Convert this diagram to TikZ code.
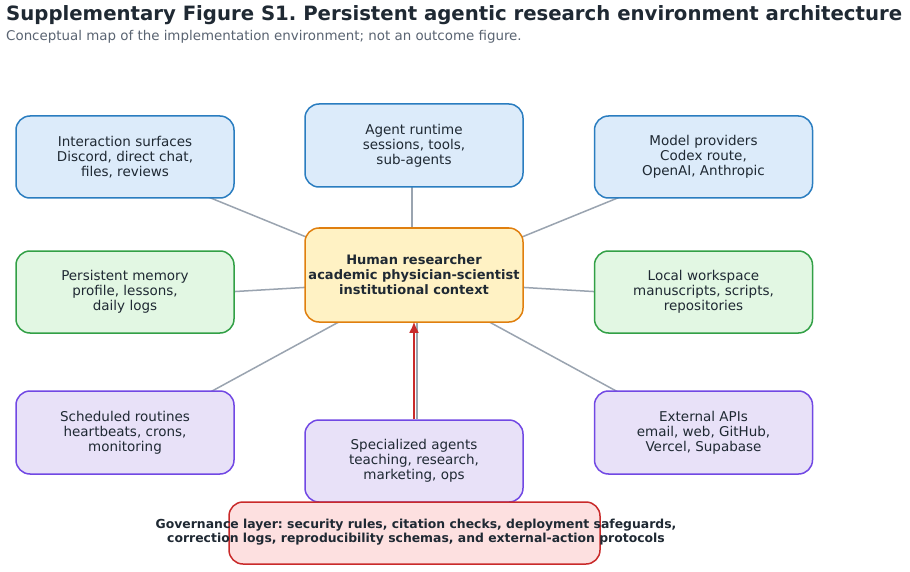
\documentclass[tikz,border=0pt]{standalone}
\usepackage{fontspec}
\setmainfont{DejaVu Sans}
\usetikzlibrary{backgrounds,arrows.meta}
\frenchspacing
\definecolor{txt}{HTML}{1F2933}
\definecolor{subtxt}{HTML}{5A6472}
\definecolor{bluefill}{HTML}{DCEBFA}
\definecolor{blueline}{HTML}{2A7DC0}
\definecolor{greenfill}{HTML}{E2F7E3}
\definecolor{greenline}{HTML}{32A046}
\definecolor{purfill}{HTML}{E8E1F8}
\definecolor{purline}{HTML}{7148E4}
\definecolor{orfill}{HTML}{FFF2C4}
\definecolor{orline}{HTML}{E07F0E}
\definecolor{redfill}{HTML}{FDE0E0}
\definecolor{redline}{HTML}{C92A2A}
\definecolor{conncol}{HTML}{9AA4B0}
\tikzset{
  box/.style={draw, line width=1.5pt, rounded corners=14pt, minimum width=218pt, minimum height=82pt,
    align=center, text=txt, font=\fontsize{13.5}{15}\selectfont, inner sep=0pt},
  bluebox/.style={box, fill=bluefill, draw=blueline},
  greenbox/.style={box, fill=greenfill, draw=greenline},
  purbox/.style={box, fill=purfill, draw=purline},
  conn/.style={draw=conncol, line width=1.5pt},
}
\begin{document}
\begin{tikzpicture}[x=1pt,y=-1pt]
\useasboundingbox (0,0) rectangle (910,572);
\node[anchor=base west, text=txt, font=\bfseries\fontsize{19.7}{22}\selectfont, inner sep=0pt] (title) at (6,21) {Supplementary Figure S1. Persistent agentic research environment architecture};
\node[anchor=base west, text=subtxt, font=\fontsize{13.4}{15}\selectfont, inner sep=0pt] (subtitle) at (6,41) {Conceptual map of the implementation environment; not an outcome figure.};

\node[box, fill=orfill, draw=orline, minimum height=94pt, font=\bfseries\fontsize{13}{15}\selectfont] (hum) at (414,275) {Human researcher\\academic physician-scientist\\institutional context};

\node[bluebox] (inter) at (125,157) {Interaction surfaces\\Discord, direct chat,\\files, reviews};
\node[bluebox, minimum height=83pt] (runtime) at (414,145.5) {Agent runtime\\sessions, tools,\\sub-agents};
\node[bluebox] (model) at (703.5,157) {Model providers\\Codex route,\\OpenAI, Anthropic};
\node[greenbox] (mem) at (125,292) {Persistent memory\\profile, lessons,\\daily logs};
\node[greenbox] (work) at (703.5,292) {Local workspace\\manuscripts, scripts,\\repositories};
\node[purbox, minimum height=83pt] (sched) at (125,432.5) {Scheduled routines\\heartbeats, crons,\\monitoring};
\node[purbox] (spec) at (414,461) {Specialized agents\\teaching, research,\\marketing, ops};
\node[purbox, minimum height=83pt] (ext) at (703.5,432.5) {External APIs\\email, web, GitHub,\\Vercel, Supabase};

\node[box, fill=redfill, draw=redline, minimum width=371pt, minimum height=62pt] (govbox) at (414.5,533) {};
\node[align=center, text=txt, font=\bfseries\fontsize{12.4}{14}\selectfont, inner sep=0pt] (gov) at (416,532) {Governance layer: security rules, citation checks, deployment safeguards,\\correction logs, reproducibility schemas, and external-action protocols};

\coordinate (hub) at ([yshift=-6pt]hum.center);
\begin{scope}[on background layer]
\fill[white] (0,0) rectangle (910,572);
\draw[conn] ([yshift=-6pt]inter.center) -- (hub);
\draw[conn] ([xshift=-2pt]runtime.center) -- ([xshift=-2pt]hum.center);
\draw[conn] ([yshift=-6pt]model.center) -- (hub);
\draw[conn] ([yshift=-6pt]mem.center) -- (hub);
\draw[conn] ([yshift=-6pt]work.center) -- (hub);
\draw[conn] ([yshift=-6pt]sched.center) -- (hub);
\draw[conn] ([yshift=-6pt]ext.center) -- (hub);
\draw[conn] ([xshift=3pt]spec.north) -- ([xshift=3pt]hum.south);
\end{scope}
\draw[draw=redline, line width=2pt, -{Latex[length=11pt,width=10pt]}] (spec.north) -- ([yshift=1pt]hum.south);
\end{tikzpicture}
\end{document}
